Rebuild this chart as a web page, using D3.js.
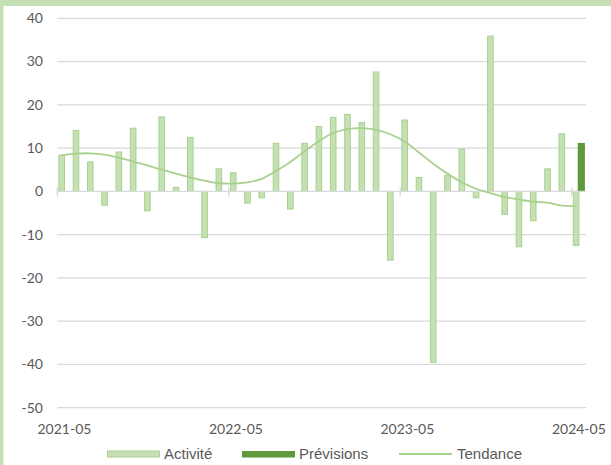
<!DOCTYPE html>
<html>
<head>
<meta charset="utf-8">
<script src="https://cdn.jsdelivr.net/npm/d3@7"></script>
<style>
  body { margin: 0; background: #fff; }
  svg { display: block; }
</style>
</head>
<body>
<svg id="chart" width="611" height="465"></svg>
<script>
// months 2021-05 .. 2024-05
const months = d3.timeMonths(new Date(2021, 4, 1), new Date(2024, 5, 1)).map(d3.timeFormat("%Y-%m"));
const activite = [8.4, 14.1, 6.8, -3.2, 9.1, 14.6, -4.5, 17.2, 0.9, 12.5, -10.7, 5.2, 4.3, -2.7, -1.5, 11.1, -4.1, 11.1, 15.0, 17.1,
  17.8, 15.9, 27.6, -15.9, 16.5, 3.2, -39.5, 3.7, 9.8, -1.5, 35.9, -5.3, -12.8, -6.8, 5.2, 13.3, -12.5];
const prevMonths = ["2024-05"];
const prevValues = [11.2];
const tendance = [8.3, 8.7, 8.8, 8.5, 7.8, 6.9, 6.0, 5.0, 4.1, 3.2, 2.5, 1.9, 1.8, 2.1, 2.9, 4.7, 6.8, 9.3, 11.6, 13.5,
  14.4, 14.6, 14.2, 13.2, 11.5, 9.0, 6.4, 4.1, 2.1, 0.6, -0.4, -1.3, -1.9, -2.4, -2.6, -3.3, -3.4];
const yTicks = [40, 30, 20, 10, 0, -10, -20, -30, -40, -50];
const xLabels = ["2021-05", "2022-05", "2023-05", "2024-05"];

const lightFill = "#c5e0b4", lightStroke = "#a9d18e", dark = "#5f993b", grid = "#d9d9d9", txt = "#595959";

const svg = d3.select("#chart");

// frame (left + top)
svg.append("rect").attr("x", 0).attr("y", 0).attr("width", 611).attr("height", 6).attr("fill", lightFill);
svg.append("rect").attr("x", 0).attr("y", 0).attr("width", 3.5).attr("height", 465).attr("fill", lightFill);

const x = d3.scaleBand().domain(months).range([57.3, 586]).padding(0);
const y = d3.scaleLinear().domain([-50, 40]).range([407.7, 18.3]);

// gridlines
svg.append("g").selectAll("line")
  .data(yTicks.filter(d => d !== 0))
  .enter().append("line")
    .attr("x1", 57.3).attr("x2", 586)
    .attr("y1", d => y(d)).attr("y2", d => y(d))
    .attr("stroke", grid).attr("stroke-width", 1.3);

// y labels
svg.append("g").selectAll("text")
  .data(yTicks)
  .enter().append("text")
    .attr("x", 43).attr("y", d => y(d))
    .attr("dy", "0.35em")
    .attr("text-anchor", "end")
    .attr("font-family", "Lato, 'Open Sans', sans-serif")
    .attr("font-size", "14px")
    .attr("fill", txt)
    .text(d => d);

// activité bars
svg.append("g").selectAll("rect")
  .data(activite)
  .enter().append("rect")
    .attr("x", (d, i) => x(months[i]) + 1.6)
    .attr("width", 5.6)
    .attr("y", d => y(Math.max(0, d)))
    .attr("height", d => Math.abs(y(d) - y(0)))
    .attr("fill", lightFill)
    .attr("stroke", lightStroke)
    .attr("stroke-width", 1);

// prévisions
svg.append("g").selectAll("rect")
  .data(prevValues)
  .enter().append("rect")
    .attr("x", (d, i) => x(prevMonths[i]) + 6)
    .attr("width", 7.2)
    .attr("y", d => y(Math.max(0, d)))
    .attr("height", d => Math.abs(y(d) - y(0)))
    .attr("fill", dark);

// zero axis + tick marks
svg.append("line")
  .attr("x1", 57.3).attr("x2", 586)
  .attr("y1", y(0)).attr("y2", y(0))
  .attr("stroke", grid).attr("stroke-width", 1.3);
svg.append("g").selectAll("line")
  .data(xLabels)
  .enter().append("line")
    .attr("x1", d => x(d)).attr("x2", d => x(d))
    .attr("y1", y(0) - 4).attr("y2", y(0) + 5)
    .attr("stroke", grid).attr("stroke-width", 1.3);

// tendance
const line = d3.line()
  .x((d, i) => x(months[i]) + 4.4)
  .y(d => y(d))
  .curve(d3.curveCatmullRom.alpha(0.5));
svg.append("path")
  .datum(tendance)
  .attr("d", line)
  .attr("fill", "none")
  .attr("stroke", lightStroke)
  .attr("stroke-width", 1.8);

// x labels
svg.append("g").selectAll("text")
  .data(xLabels)
  .enter().append("text")
    .attr("x", d => x(d) + x.bandwidth() / 2)
    .attr("y", 429)
    .attr("dy", "0.35em")
    .attr("text-anchor", "middle")
    .attr("font-family", "Lato, 'Open Sans', sans-serif")
    .attr("font-size", "14px")
    .attr("fill", txt)
    .text(d => d);

// legend
const legend = svg.append("g").attr("font-family", "'Liberation Sans', Arial, sans-serif").attr("font-size", "15px").attr("fill", txt);
legend.append("rect").attr("x", 107.5).attr("y", 451).attr("width", 52).attr("height", 6)
  .attr("fill", lightFill).attr("stroke", lightStroke).attr("stroke-width", 1);
legend.append("text").attr("x", 164).attr("y", 454).attr("dy", "0.35em").text("Activité");
legend.append("rect").attr("x", 242).attr("y", 451).attr("width", 53).attr("height", 6.5).attr("fill", dark);
legend.append("text").attr("x", 299).attr("y", 454).attr("dy", "0.35em").text("Prévisions");
legend.append("line").attr("x1", 399).attr("x2", 452).attr("y1", 454).attr("y2", 454)
  .attr("stroke", lightStroke).attr("stroke-width", 1.8);
legend.append("text").attr("x", 457).attr("y", 454).attr("dy", "0.35em").text("Tendance");
</script>
</body>
</html>
